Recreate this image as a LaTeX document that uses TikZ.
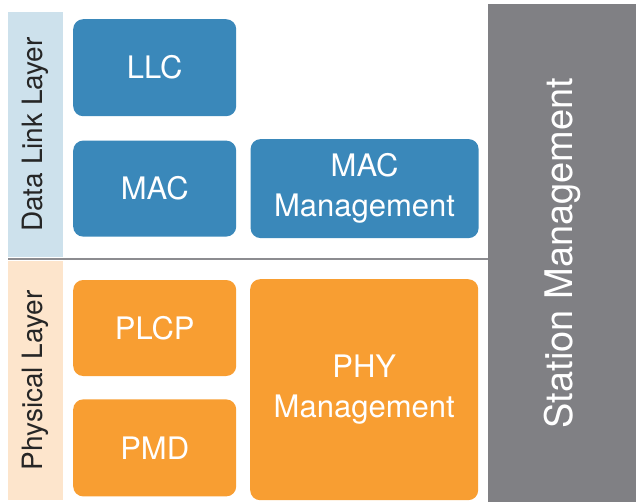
\documentclass[tikz,border=0pt]{standalone}
\usepackage{fontspec}
\setmainfont{TeX Gyre Heros}
\usepackage{tikz}
\usetikzlibrary{
  positioning,
  backgrounds
}
\definecolor{linkblue}{HTML}{3A88BA}
\definecolor{phyorange}{HTML}{F89E32}
\definecolor{stagray}{HTML}{808084}
\definecolor{linkband}{HTML}{CDE1EC}
\definecolor{phyband}{HTML}{FDE5CC}
\definecolor{sepgray}{HTML}{8C8C90}

\begin{document}
\begin{tikzpicture}[
      x=1pt,y=-1pt,
      block/.style={
         rectangle,
         rounded corners=10pt,
         inner sep=0pt,
         minimum width=163pt,
         minimum height=97pt,
         text=white,
         font=\fontsize{31}{40}\selectfont,
         align=center
      },
      upper/.style={block, fill=linkblue},
      lower/.style={block, fill=phyorange},
      band/.style={
         rectangle,
         rotate=90,
         inner sep=0pt,
         minimum height=55pt,
         text=black!85,
         font=\fontsize{28}{32}\selectfont
      },
      sepline/.style={draw=sepgray, line width=2.5pt}
    ]
    \useasboundingbox (0,0) rectangle (636,502);
    % layer bands
    \node (dll) [band, fill=linkband, minimum width=245pt] at (35.5,134.5) {Data Link Layer};
    \node (phy) [band, fill=phyband, minimum width=239pt] at (35.5,380.5) {Physical Layer};
    \node (sta) [band, fill=stagray, minimum width=498pt, minimum height=148pt,
                 text=white, font=\fontsize{38}{40}\selectfont] at (562,253) {Station Management};
    \draw[sepline] (8,259) -- (488,259);
    % data link layer
    \node (llc) [upper, anchor=north west] at (73,19) {LLC};
    \node (mac) [upper, below=24pt of llc, minimum height=96pt] {MAC};
    \node (macm) [upper, right=14pt of mac, minimum width=228pt, minimum height=99pt] {MAC\\Management};
    % physical layer
    \node (plcp) [lower, below=43pt of mac, minimum height=96pt] {PLCP};
    \node (pmd) [lower, below=23pt of plcp] {PMD};
    \node (phym) [lower, anchor=north west, minimum width=228pt, minimum height=221pt] at (250,279) {PHY\\Management};
\end{tikzpicture}
\end{document}
